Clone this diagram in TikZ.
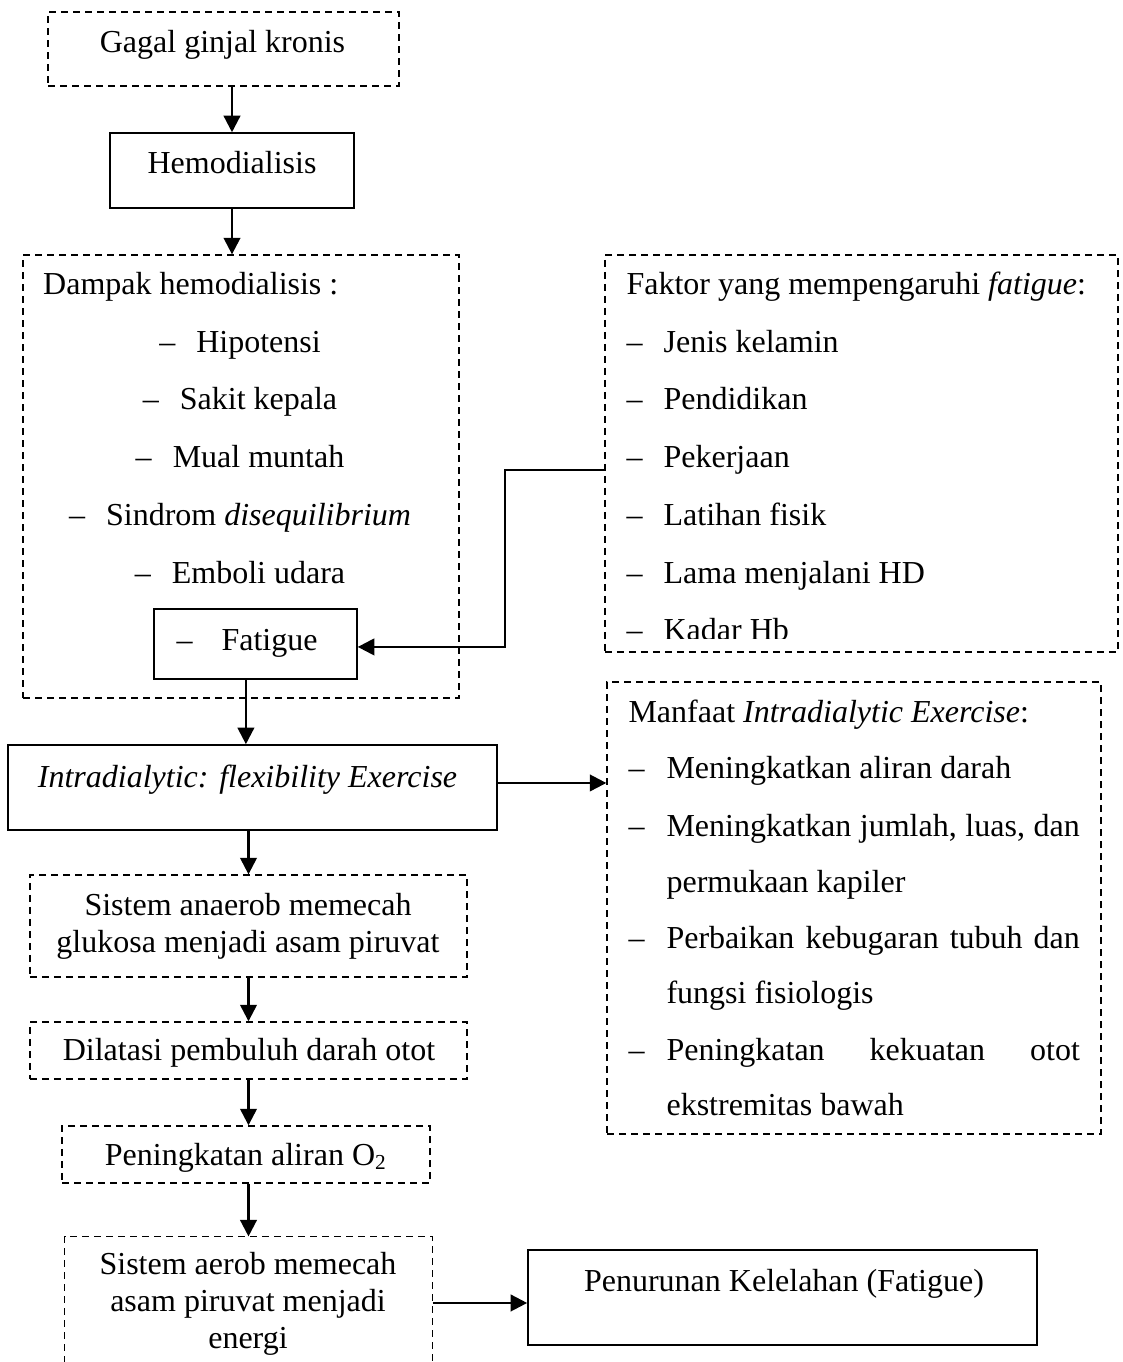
\documentclass[tikz,border=0pt]{standalone}
\usepackage{fontspec}
\setmainfont{Liberation Serif}
\usepackage{tikz}
\usetikzlibrary{arrows.meta, positioning}

\begin{document}
\begin{tikzpicture}[
    x=0.375pt, y=-0.375pt,
    font=\fontsize{12}{13.9}\selectfont,
    dline/.style={line width=0.5pt, dash pattern=on 2.6pt off 1.9pt},
    sbox/.style={rectangle, draw, line width=0.6pt, inner sep=0pt},
    dbox/.style={rectangle, draw, dline, inner sep=0pt},
    txt/.style={inner sep=0pt, anchor=base},
    item/.style={inner sep=0pt, anchor=base west},
    arrow/.style={-{Triangle[length=6.2pt,width=6.2pt]}, line width=0.9pt}
]
\useasboundingbox (0,0) rectangle (1123,1362);

% Gagal ginjal + Hemodialisis
\node[dbox, minimum width=131.6pt, minimum height=27.75pt] (gagal) at (223.5,49) {};
\node[txt] (gagaltxt) at (222.5,53) {Gagal ginjal kronis};

\node[sbox, minimum width=91.5pt, minimum height=28.1pt] (hemo) at (232,170.5) {};
\node[txt] (hemotxt) at (232,174) {Hemodialisis};

% Dampak hemodialisis
\node[dbox, minimum width=163.5pt, minimum height=166.1pt] (dampak) at (241,476.5) {};
\node[item] (dampaktitle) at (42.7,295) {Dampak hemodialisis :};
\foreach \t/\y in {Hipotensi/352, Sakit kepala/409, Mual muntah/467, Sindrom \textit{disequilibrium}/525, Emboli udara/583}
    \node[txt] (d\y) at (240,\y) {\makebox[13.9pt][l]{–}\t};

\node[sbox, minimum width=76.1pt, minimum height=26.25pt] (fatigue) at (255.5,644) {};
\node[item] (fatiguetxt) at (176,650) {\makebox[16.9pt][l]{–}Fatigue};

% Faktor fatigue
\node[dbox, minimum width=192.4pt, minimum height=148.9pt] (faktor) at (861.5,453.5) {};
\node[item] (faktortitle) at (626,295) {Faktor yang mempengaruhi \textit{fatigue}:};
\foreach \t/\y [count=\i] in {Jenis kelamin/352, Pendidikan/409, Pekerjaan/467, Latihan fisik/525, Lama menjalani HD/583}
    \node[item] (f\i) at (626,\y) {\makebox[13.9pt][l]{–}\t};
\begin{scope}
    \clip (605,255) rectangle (1118,638);
    \node[item] (f6) at (626,640) {\makebox[13.9pt][l]{–}Kadar Hb};
\end{scope}

% Intradialytic exercise
\node[sbox, minimum width=183.4pt, minimum height=31.9pt] (intra) at (252.5,787.5) {};
\node[txt] (intratxt) at (247.5,787) {\textit{Intradialytic: flexibility Exercise}};

% Manfaat
\node[dbox, minimum width=185.25pt, minimum height=169.5pt] (manfaat) at (854,908) {};
\node[item] (manfaattitle) at (628,722) {Manfaat \textit{Intradialytic Exercise}:};
\node[item] (m1) at (628,778) {\makebox[14.25pt][l]{–}Meningkatkan aliran darah};
\node[item] (m2) at (628,836) {\makebox[14.25pt][l]{–}\makebox[155pt][s]{Meningkatkan jumlah, luas, dan}};
\node[item] (m2b) at (666,892) {permukaan kapiler};
\node[item] (m3) at (628,948) {\makebox[14.25pt][l]{–}\makebox[155pt][s]{Perbaikan kebugaran tubuh dan}};
\node[item] (m3b) at (666,1003) {fungsi fisiologis};
\node[item] (m4) at (628,1060) {\makebox[14.25pt][l]{–}\makebox[155pt][s]{Peningkatan kekuatan otot}};
\node[item] (m4b) at (666,1115) {ekstremitas bawah};

% Lower chain
\node[dbox, minimum width=163.9pt, minimum height=38.25pt] (anaerob) at (248.5,926) {};
\node[align=center, inner sep=0pt] (anaerobtxt) at (248,926) {Sistem anaerob memecah\\glukosa menjadi asam piruvat};

\node[dbox, minimum width=163.9pt, minimum height=21.4pt] (dilatasi) at (248.5,1050.5) {};
\node[txt] (dilatasitxt) at (249,1060) {Dilatasi pembuluh darah otot};

\node[dbox, minimum width=138pt, minimum height=21.4pt] (oksigen) at (246,1154.5) {};
\node[txt] (oksigentxt) at (246,1165) {Peningkatan aliran O\textsubscript{2}};

\node[minimum width=137.6pt, minimum height=46.9pt, inner sep=0pt] (aerob) at (248.5,1299.5) {};
\draw[dline] (aerob.south west) -- (aerob.north west) -- (aerob.north east) -- (aerob.south east);
\node[align=center, inner sep=0pt] (aerobtxt) at (248,1303.5) {Sistem aerob memecah\\asam piruvat menjadi\\energi};

\node[sbox, minimum width=190.9pt, minimum height=35.6pt] (penurunan) at (782.5,1297.5) {};
\node[txt] (penurunantxt) at (784,1291) {Penurunan Kelelahan (Fatigue)};

% Arrows
\draw[arrow] (gagal.south -| hemo.north) -- (hemo.north);
\draw[arrow] (hemo.south) -- (hemo.south |- dampak.north);
\coordinate (bend) at (505,470);
\draw[arrow] (bend -| faktor.west) -- (bend) |- ([yshift=-1.1pt]fatigue.east);
\draw[arrow] ([xshift=-3.6pt]fatigue.south) -- ([xshift=-3.6pt]fatigue.south |- intra.north);
\draw[arrow] ([yshift=1.7pt]intra.east) -- ([yshift=1.7pt]intra.east -| manfaat.west);
\draw[arrow] (intra.south -| anaerob.north) -- (anaerob.north);
\draw[arrow] (anaerob.south) -- (dilatasi.north);
\draw[arrow] (dilatasi.south) -- (dilatasi.south |- oksigen.north);
\draw[arrow] (aerob.north |- oksigen.south) -- (aerob.north);
\draw[arrow] ([yshift=-1.3pt]aerob.east) -- ([yshift=-1.3pt]aerob.east -| penurunan.west);

\end{tikzpicture}
\end{document}
